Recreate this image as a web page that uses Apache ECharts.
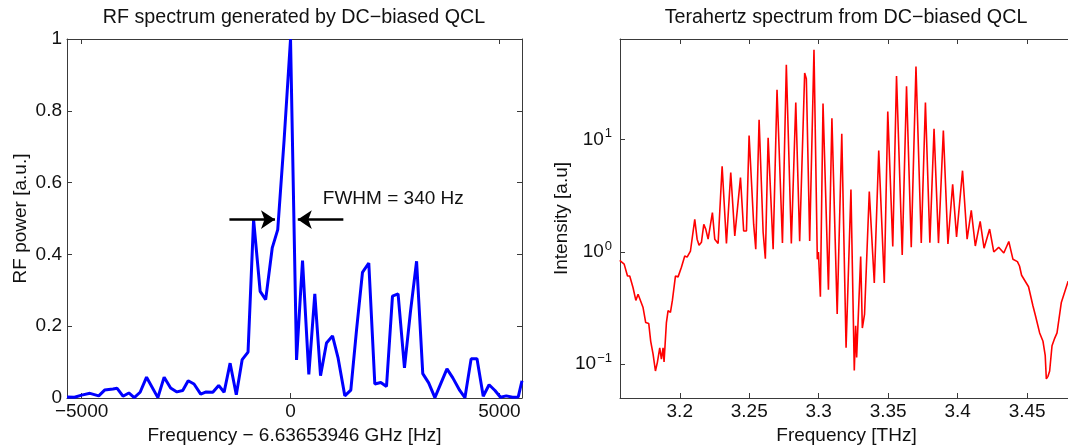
<!DOCTYPE html>
<html>
<head>
<meta charset="utf-8">
<title>DC-biased QCL spectra</title>
<script src="https://cdn.jsdelivr.net/npm/echarts@6.0.0/dist/echarts.min.js"></script>
<style>
html, body { margin: 0; padding: 0; background: #fff; }
#chart { width: 1068px; height: 446px; }
</style>
</head>
<body>
<div id="chart"></div>
<script>
// RF beat note, offset from 6.63653946 GHz [Hz] / normalised power
var rfFreq = [-5350, -5170, -5000, -4800, -4590, -4450, -4250, -4150, -4010, -3870,
	-3740, -3600, -3446, -3175, -3025, -2870, -2720, -2580, -2450, -2310,
	-2150, -2020, -1860, -1720, -1590, -1446, -1298, -1157, -1017, -884,
	-727, -595, -438, -306, -153, 0, 144, 287, 438, 581,
	718, 861, 1005, 1139, 1299, 1443, 1580, 1722, 1873, 2017,
	2160, 2297, 2440, 2574, 2727, 2870, 3017, 3165, 3306, 3455,
	3744, 3884, 4050, 4174, 4322, 4463, 4612, 4752, 4893, 5025,
	5165, 5314, 5450, 5540];
var rfPower = [0.003, 0.002, 0.008, 0.013, 0.006, 0.022, 0.025, 0.027, 0.005, 0.014,
	0.001, 0.016, 0.058, 0.001, 0.058, 0.028, 0.017, 0.021, 0.048, 0.039,
	0.011, 0.017, 0.016, 0.035, 0.016, 0.097, 0.009, 0.107, 0.128, 0.497,
	0.297, 0.274, 0.418, 0.469, 0.72, 1.0, 0.106, 0.383, 0.066, 0.29,
	0.062, 0.153, 0.173, 0.111, 0.006, 0.022, 0.19, 0.35, 0.376, 0.039,
	0.043, 0.032, 0.284, 0.29, 0.084, 0.24, 0.381, 0.068, 0.042, 0.001,
	0.081, 0.056, 0.021, 0.001, 0.109, 0.109, 0.005, 0.037, 0.021, 0.002,
	0.006, 0.002, 0.003, 0.048];

// THz spectrum [THz] / intensity [a.u]
var thzFreq = [3.1568, 3.1600, 3.1624, 3.1640, 3.1664, 3.1684, 3.1700, 3.1712, 3.1736, 3.1755,
	3.1777, 3.1791, 3.1808, 3.1825, 3.1839, 3.1856, 3.1868, 3.1880, 3.1887, 3.1904,
	3.1916, 3.1933, 3.1947, 3.1969, 3.1988, 3.2012, 3.2036, 3.2053, 3.2077, 3.2089,
	3.2108, 3.2125, 3.2139, 3.2156, 3.2173, 3.2187, 3.2204, 3.2216, 3.2235, 3.2252,
	3.2276, 3.2305, 3.2336, 3.2367, 3.2396, 3.2408, 3.2437, 3.2460, 3.2480, 3.2499,
	3.2508, 3.2532, 3.2547, 3.2571, 3.2600, 3.2616, 3.2636, 3.2672, 3.2700, 3.2712,
	3.2739, 3.2767, 3.2803, 3.2835, 3.2863, 3.2899, 3.2911, 3.2935, 3.2966, 3.2990,
	3.2998, 3.3012, 3.3031, 3.3070, 3.3095, 3.3133, 3.3145, 3.3166, 3.3197, 3.3232,
	3.3256, 3.3266, 3.3273, 3.3302, 3.3314, 3.3330, 3.3364, 3.3400, 3.3432, 3.3472,
	3.3497, 3.3533, 3.3560, 3.3601, 3.3632, 3.3666, 3.3700, 3.3738, 3.3768, 3.3800,
	3.3830, 3.3862, 3.3897, 3.3930, 3.3964, 3.3992, 3.4003, 3.4035, 3.4068, 3.4098,
	3.4127, 3.4162, 3.4190, 3.4230, 3.4260, 3.4295, 3.4332, 3.4368, 3.4398, 3.4430,
	3.4445, 3.4460, 3.4510, 3.4542, 3.4560, 3.4590, 3.4614, 3.4630, 3.4638, 3.4650,
	3.4662, 3.4679, 3.4698, 3.4715, 3.4746, 3.4795];
var thzIntensity = [0.84, 0.78, 0.61, 0.61, 0.48, 0.37, 0.42, 0.43, 0.32, 0.235,
	0.23, 0.16, 0.123, 0.087, 0.104, 0.14, 0.111, 0.14, 0.105, 0.235,
	0.30, 0.29, 0.37, 0.61, 0.60, 0.73, 0.92, 0.90, 1.02, 1.05,
	1.95, 1.30, 1.15, 1.22, 1.76, 1.60, 1.30, 1.25, 2.24, 1.30,
	1.19, 5.8, 1.19, 5.1, 1.39, 1.35, 4.6, 1.54, 1.54, 10.9,
	10.7, 1.76, 1.06, 15.1, 1.5, 0.87, 10.4, 1.06, 27.9, 27,
	1.2, 46.6, 1.19, 21.5, 1.25, 39.3, 35, 1.25, 63.5, 0.86,
	1.0, 0.40, 21, 0.46, 15.5, 0.28, 0.27, 11.3, 0.14, 3.6,
	0.088, 0.22, 0.115, 0.91, 0.21, 0.28, 3.45, 0.53, 8.0, 0.53,
	17.8, 1.12, 37, 0.94, 30, 1.1, 45, 1.2, 21.5, 1.21,
	12.5, 1.2, 12.1, 1.18, 4.0, 1.36, 1.34, 5.3, 1.3, 2.35,
	1.13, 1.87, 1.08, 1.6, 1.0, 1.1, 0.98, 1.24, 0.86, 0.82,
	0.75, 0.62, 0.49, 0.33, 0.27, 0.19, 0.16, 0.12, 0.074, 0.078,
	0.087, 0.146, 0.17, 0.19, 0.355, 0.55];

// FWHM annotation (data coordinates of the left plot)
var fwhmArrowLeft = [[-1463, 0.497], [-372, 0.497]];
var fwhmArrowRight = [[1264, 0.497], [174, 0.497]];
var fwhmLabelAt = [773, 0.556];
var fwhmText = 'FWHM = 340 Hz';

var font = "'Liberation Sans', Arial, Helvetica, sans-serif";
var axisColor = '#3a3a3a';
var textColor = '#111';

function pairs(xs, ys) {
	var out = [];
	for (var i = 0; i < xs.length; i++) {
		out.push([xs[i], ys[i]]);
	}
	return out;
}

function boxAxis(extra) {
	var a = {
		type : 'value',
		axisLine : { show : true, onZero : false, lineStyle : { color : axisColor, width : 1 } },
		axisTick : { show : true, inside : true, length : 5, lineStyle : { color : axisColor } },
		splitLine : { show : false },
		axisLabel : { show : false },
		nameTextStyle : { fontSize : 19, fontFamily : font, color : textColor }
	};
	for (var k in extra) {
		a[k] = extra[k];
	}
	return a;
}

var tickLabel = { fontSize : 19, fontFamily : font, color : textColor };

option = {
	backgroundColor : '#fff',
	animation : false,
	grid : [ {
		left : 67, right : 546, top : 39, bottom : 48, outerBoundsMode : 'none'
	}, {
		left : 620, right : -5, top : 39, bottom : 48, outerBoundsMode : 'none'
	} ],
	graphic : [ {
		type : 'text', x : 294, y : 18,
		style : { text : 'RF spectrum generated by DC\u2212biased QCL', align : 'center', verticalAlign : 'middle',
			fontSize : 19.7, fontFamily : font, fill : textColor }
	}, {
		type : 'text', x : 846, y : 18,
		style : { text : 'Terahertz spectrum from DC\u2212biased QCL', align : 'center', verticalAlign : 'middle',
			fontSize : 19.7, fontFamily : font, fill : textColor }
	} ],
	xAxis : [ boxAxis({
		gridIndex : 0, position : 'bottom', min : -5350, max : 5540, splitNumber : 2,
		name : 'Frequency \u2212 6.63653946 GHz [Hz]', nameLocation : 'middle', nameGap : 26,
		axisLabel : Object.assign({ show : true, margin : 4, showMinLabel : false, showMaxLabel : false,
			formatter : function(v) { return String(v).replace('-', '\u2212'); } }, tickLabel)
	}), boxAxis({
		gridIndex : 0, position : 'top', min : -5350, max : 5540, splitNumber : 2
	}), boxAxis({
		gridIndex : 1, position : 'bottom', min : 3.157, max : 3.483, splitNumber : 6,
		name : 'Frequency [THz]', nameLocation : 'middle', nameGap : 26,
		axisLabel : Object.assign({ show : true, margin : 4, showMinLabel : false, showMaxLabel : false }, tickLabel)
	}), boxAxis({
		gridIndex : 1, position : 'top', min : 3.157, max : 3.483, splitNumber : 6
	}) ],
	yAxis : [ boxAxis({
		gridIndex : 0, position : 'left', min : 0, max : 1, interval : 0.2,
		name : 'RF power [a.u.]', nameLocation : 'middle', nameGap : 37,
		axisLabel : Object.assign({ show : true, margin : 5 }, tickLabel)
	}), boxAxis({
		gridIndex : 0, position : 'right', min : 0, max : 1, interval : 0.2
	}), boxAxis({
		gridIndex : 1, type : 'log', logBase : 10, position : 'left', min : 0.05, max : 79,
		name : 'Intensity [a.u]', nameLocation : 'middle', nameGap : 46,
		axisLabel : {
			show : true, margin : 8, showMinLabel : false, showMaxLabel : false,
			formatter : function(v) {
				var e = Math.round(Math.log(v) / Math.LN10);
				if (Math.abs(Math.log(v) / Math.LN10 - e) > 1e-6) {
					return '';
				}
				return '{b|10}{s|' + String(e).replace('-', '\u2212') + '}';
			},
			rich : {
				b : { fontSize : 19, fontFamily : font, color : textColor },
				s : { fontSize : 13, fontFamily : font, color : textColor, padding : [ 0, 0, 12, 1 ] }
			}
		}
	}) ],
	series : [ {
		name : 'RF',
		type : 'line',
		xAxisIndex : 0,
		yAxisIndex : 0,
		data : pairs(rfFreq, rfPower),
		symbol : 'none',
		lineStyle : { color : '#0000ff', width : 3 },
		markLine : {
			silent : true,
			symbol : [ 'none', 'arrow' ],
			symbolSize : 14,
			lineStyle : { color : '#000', width : 2.5, type : 'solid' },
			label : { show : false },
			data : [ [ { coord : fwhmArrowLeft[0] }, { coord : fwhmArrowLeft[1] } ],
				[ { coord : fwhmArrowRight[0] }, { coord : fwhmArrowRight[1] } ] ]
		},
		markPoint : {
			silent : true,
			symbol : 'circle',
			symbolSize : 0,
			label : { show : true, position : 'right', distance : 0, formatter : fwhmText,
				fontSize : 19, fontFamily : font, color : textColor },
			data : [ { coord : fwhmLabelAt } ]
		}
	}, {
		name : 'THz',
		type : 'line',
		xAxisIndex : 2,
		yAxisIndex : 2,
		data : pairs(thzFreq, thzIntensity),
		symbol : 'none',
		lineStyle : { color : '#ff0000', width : 1.6 }
	} ]
};

var myChart = echarts.init(document.getElementById('chart'), null, { renderer : 'canvas' });
myChart.setOption(option);
</script>
</body>
</html>
